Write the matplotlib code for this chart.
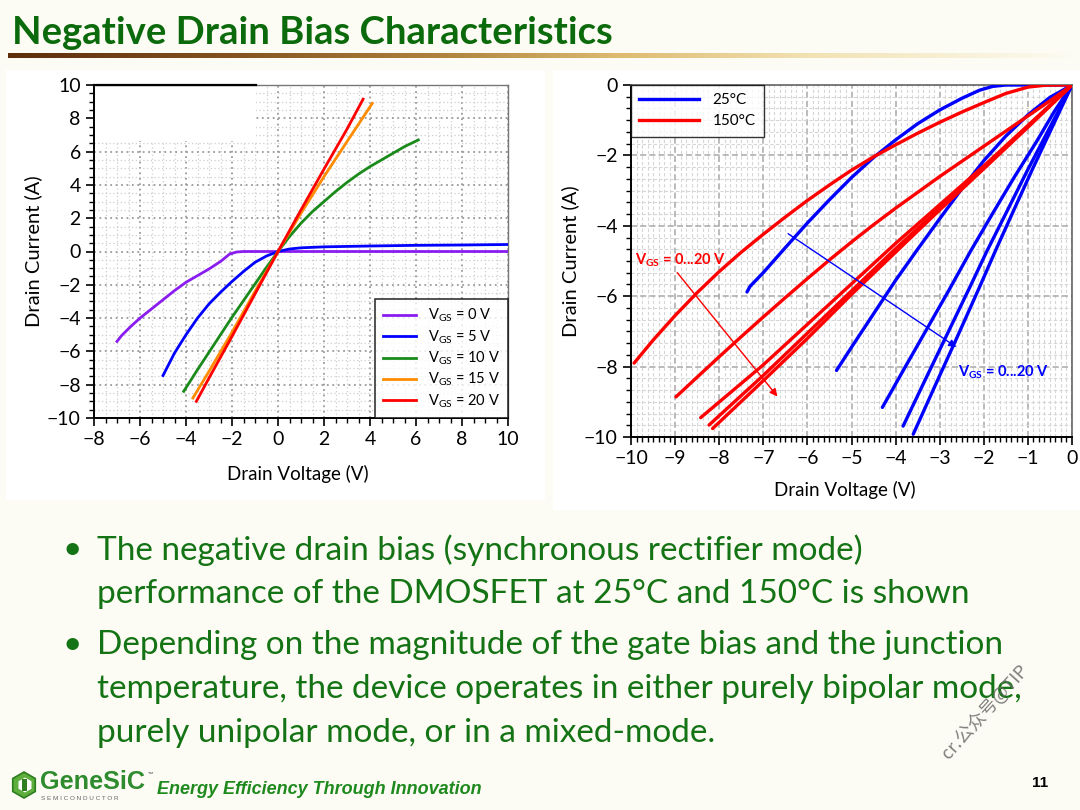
import numpy as np
import matplotlib
matplotlib.use('Agg')
import matplotlib.pyplot as plt
from matplotlib.ticker import MultipleLocator
from matplotlib.patches import Rectangle, Polygon
from matplotlib import font_manager
import matplotlib.colors as mcolors

plt.rcParams['font.family'] = ['Lato', 'DejaVu Sans']
plt.rcParams['mathtext.fontset'] = 'custom'
plt.rcParams['mathtext.rm'] = 'Lato'
plt.rcParams['mathtext.it'] = 'Lato:italic'
plt.rcParams['mathtext.bf'] = 'Lato:bold'

# ---------------- data: left chart (I-V, 25 C) ----------------
vgs_labels = ['0', '5', '10', '15', '20']
v0_x = [-7.0, -6.8, -6.4, -6.0, -5.5, -5.0, -4.5, -4.0, -3.5, -3.0, -2.5, -2.1, -1.8, -1.5, 0.0, 10.0]
v0_y = [-5.4, -5.05, -4.5, -4.0, -3.45, -2.9, -2.35, -1.85, -1.45, -1.05, -0.6, -0.15, -0.03, 0.0, 0.0, 0.0]
v5_x = [-5.0, -4.5, -4.0, -3.5, -3.0, -2.5, -2.0, -1.5, -1.0, -0.5, 0.0, 0.5, 1.0, 2.0, 4.0, 6.0, 8.0, 10.0]
v5_y = [-7.45, -6.1, -5.0, -4.0, -3.15, -2.45, -1.8, -1.2, -0.65, -0.27, 0.0, 0.15, 0.22, 0.28, 0.33, 0.37, 0.39, 0.42]
v10_x = [-4.1, -3.5, -3.0, -2.5, -2.0, -1.5, -1.0, -0.5, 0.0, 0.5, 1.0, 1.5, 2.0, 2.5, 3.0, 3.5, 4.0, 4.5, 5.0, 5.5, 6.1]
v10_y = [-8.4, -7.1, -6.05, -5.0, -3.95, -2.95, -1.95, -0.95, 0.0, 0.9, 1.7, 2.4, 3.0, 3.6, 4.15, 4.65, 5.1, 5.5, 5.9, 6.3, 6.7]
v15_x = [-3.7, -3.0, -2.0, -1.0, 0.0, 1.0, 2.0, 3.0, 4.1]
v15_y = [-8.8, -7.2, -4.85, -2.4, 0.0, 2.3, 4.5, 6.6, 8.9]
v20_x = [-3.55, -3.0, -2.0, -1.0, 0.0, 1.0, 2.0, 3.0, 3.7]
v20_y = [-9.0, -7.6, -5.1, -2.55, 0.0, 2.5, 4.95, 7.35, 9.15]

# ---------------- data: right chart (3rd quadrant, 25 C / 150 C) ----------------
b0_x = [-7.37, -7.3, -7.0, -6.5, -6.0, -5.5, -5.0, -4.5, -4.0, -3.5, -3.0, -2.5, -2.1, -1.8, -1.5, -1.0, 0.0]
b0_y = [-5.88, -5.72, -5.33, -4.62, -3.92, -3.26, -2.63, -2.06, -1.56, -1.1, -0.71, -0.38, -0.15, -0.04, 0.0, 0.0, 0.0]
b5_x = [-5.34, -5.0, -4.5, -4.0, -3.52, -3.0, -2.5, -2.0, -1.5, -1.0, -0.5, 0.0]
b5_y = [-8.11, -7.45, -6.5, -5.55, -4.7, -3.8, -2.95, -2.15, -1.45, -0.85, -0.35, 0.0]
b10_x = [-4.3, -3.8, -3.3, -2.8, -2.3, -1.8, -1.3, -0.8, -0.4, 0.0]
b10_y = [-9.16, -8.05, -6.95, -5.85, -4.72, -3.65, -2.6, -1.6, -0.75, 0.0]
b15_x = [-3.83, -3.3, -2.8, -2.3, -1.93, -1.5, -1.0, -0.5, 0.0]
b15_y = [-9.69, -8.3, -7.0, -5.7, -4.72, -3.65, -2.4, -1.2, 0.0]
b20_x = [-3.6, -3.1, -2.6, -2.1, -1.74, -1.3, -0.9, -0.45, 0.0]
b20_y = [-9.92, -8.53, -7.15, -5.75, -4.72, -3.5, -2.4, -1.2, 0.0]

r0_x = [-9.93, -9.5, -9.0, -8.5, -8.0, -7.5, -7.0, -6.5, -6.0, -5.5, -5.0, -4.5, -4.0, -3.5, -3.0, -2.5, -2.0, -1.5, -1.0, -0.6, 0.0]
r0_y = [-7.9, -7.25, -6.55, -5.9, -5.3, -4.75, -4.24, -3.75, -3.28, -2.84, -2.42, -2.04, -1.7, -1.37, -1.06, -0.77, -0.5, -0.24, -0.06, -0.005, 0.0]
r5_x = [-8.98, -8.5, -8.0, -7.5, -7.0, -6.5, -6.0, -5.5, -5.0, -4.5, -4.0, -3.0, -2.0, -1.0, -0.5, 0.0]
r5_y = [-8.86, -8.3, -7.72, -7.15, -6.59, -6.04, -5.5, -4.97, -4.46, -3.97, -3.5, -2.6, -1.74, -0.88, -0.45, 0.0]
r10_x = [-8.42, -7.0, -6.0, -5.0, -4.0, -3.0, -2.0, -1.0, 0.0]
r10_y = [-9.45, -7.95, -6.8, -5.65, -4.5, -3.4, -2.3, -1.15, 0.0]
r15_x = [-8.23, -7.0, -6.0, -5.0, -4.0, -3.0, -2.0, -1.0, 0.0]
r15_y = [-9.66, -8.25, -7.05, -5.85, -4.65, -3.5, -2.35, -1.18, 0.0]
r20_x = [-8.15, -7.0, -6.0, -5.0, -4.0, -3.0, -2.0, -1.0, 0.0]
r20_y = [-9.76, -8.4, -7.2, -5.95, -4.75, -3.55, -2.38, -1.2, 0.0]

temp_labels = ['25°C', '150°C']

title = 'Negative Drain Bias Characteristics'
bullets = [
    ['The negative drain bias (synchronous rectifier mode)',
     'performance of the DMOSFET at 25°C and 150°C is shown'],
    ['Depending on the magnitude of the gate bias and the junction',
     'temperature, the device operates in either purely bipolar mode,',
     'purely unipolar mode, or in a mixed-mode.'],
]
footer = 'Energy Efficiency Through Innovation'
page = '11'

# ---------------- figure ----------------
W, H = 1080, 810
fig = plt.figure(figsize=(10.8, 8.1), dpi=100)
bg = '#FDFCF4'
fig.patch.set_facecolor(bg)
renderer = fig.canvas.get_renderer()

def fx(px):
    return px / W

def fy(py):
    return 1 - py / H

def fit(t, target):
    w = t.get_window_extent(renderer).width
    t.set_fontsize(t.get_fontsize() * target / w)

# title
tt = fig.text(fx(12), fy(33), title, fontsize=24, fontweight='bold', color='#0B6A0B', va='center', ha='left')
fit(tt, 602)

# gradient bar under title
bar_ax = fig.add_axes([fx(8), fy(58), fx(1072), 5 / H])
stops = [(0.0, '#5E2E0C'), (0.2, '#83501E'), (0.42, '#B38840'), (0.57, '#DDBB70'), (0.75, '#F2E2B4'), (1.0, bg)]
cmap = mcolors.LinearSegmentedColormap.from_list('bar', stops)
grad = np.linspace(0, 1, 512)[None, :]
bar_ax.imshow(grad, aspect='auto', cmap=cmap, extent=[0, 1, 0, 1])
bar_ax.axis('off')

# white panels behind the charts
fig.patches.append(Rectangle((fx(6), fy(500)), fx(539), 430 / H, transform=fig.transFigure, facecolor='white', edgecolor='none', zorder=-5))
fig.patches.append(Rectangle((fx(553), fy(510)), fx(527), 440 / H, transform=fig.transFigure, facecolor='white', edgecolor='none', zorder=-5))

# ---------------- left chart ----------------
ax1 = fig.add_axes([fx(94), fy(418), fx(414), 333 / H])
ax1.set_facecolor('white')
ax1.set_axisbelow(True)
lcolors = ['#8A1CF0', '#0000FF', '#1A8A1A', '#FF8C00', '#FF0000']
lx = [v0_x, v5_x, v10_x, v15_x, v20_x]
ly = [v0_y, v5_y, v10_y, v15_y, v20_y]
for xs, ys, c, lab in zip(lx, ly, lcolors, vgs_labels):
    ax1.plot(xs, ys, color=c, lw=2.0, label=r'V$_{\mathrm{GS}}$ = ' + lab + ' V', zorder=3)
ax1.set_xlim(-8, 10)
ax1.set_ylim(-10, 10)
ax1.xaxis.set_major_locator(MultipleLocator(2))
ax1.yaxis.set_major_locator(MultipleLocator(2))
ax1.xaxis.set_minor_locator(MultipleLocator(0.5))
ax1.yaxis.set_minor_locator(MultipleLocator(0.5))
ax1.grid(which='major', color='#9A9A9A', linestyle=(0, (1, 2)), lw=1.3)
ax1.grid(which='minor', color='#CFCFCF', linestyle=(0, (1, 2)), lw=0.9)
ax1.tick_params(which='major', direction='out', length=6, width=1.2, labelsize=14, colors='black')
ax1.tick_params(which='minor', direction='out', length=3.5, width=1.0)
for s in ['left', 'bottom']:
    ax1.spines[s].set_linewidth(1.4)
    ax1.spines[s].set_color('black')
for s in ['top', 'right']:
    ax1.spines[s].set_linewidth(1.0)
    ax1.spines[s].set_color('#777777')
ax1.add_patch(Rectangle((-8, 6.62), 7.05, 3.38, facecolor='white', edgecolor='none', zorder=1))
ax1.plot([-8, -0.95], [10, 10], color='black', lw=1.6, clip_on=False, zorder=4)
leg1 = ax1.legend(loc='lower right', fontsize=10.5, frameon=True, fancybox=False, borderaxespad=0.0,
                  handlelength=2.3, handletextpad=0.8, labelspacing=0.28, borderpad=0.55)
leg1.get_frame().set_edgecolor('black')
leg1.get_frame().set_linewidth(1.2)
fig.text(fx(33), fy(251), 'Drain Current (A)', rotation=90, fontsize=14.5, va='center', ha='center')
fig.text(fx(298), fy(474), 'Drain Voltage (V)', fontsize=13.5, va='center', ha='center')

# ---------------- right chart ----------------
ax2 = fig.add_axes([fx(631), fy(437), fx(441), 352 / H])
ax2.set_facecolor('white')
ax2.set_axisbelow(True)
for xs, ys in zip([b0_x, b5_x, b10_x, b15_x, b20_x], [b0_y, b5_y, b10_y, b15_y, b20_y]):
    ax2.plot(xs, ys, color='#0000FF', lw=2.4, zorder=3, solid_capstyle='round', solid_joinstyle='round')
for xs, ys in zip([r0_x, r5_x, r10_x, r15_x, r20_x], [r0_y, r5_y, r10_y, r15_y, r20_y]):
    ax2.plot(xs, ys, color='#FF0000', lw=2.4, zorder=3, solid_capstyle='round', solid_joinstyle='round')
ax2.set_xlim(-10, 0)
ax2.set_ylim(-10, 0)
ax2.xaxis.set_major_locator(MultipleLocator(1))
ax2.yaxis.set_major_locator(MultipleLocator(2))
ax2.xaxis.set_minor_locator(MultipleLocator(0.125))
ax2.yaxis.set_minor_locator(MultipleLocator(1 / 3))
ax2.grid(which='major', color='#A8A8A8', linestyle=(0, (4, 2)), lw=1.1)
ax2.grid(which='minor', color='#D6D6D6', linestyle=(0, (3, 2)), lw=0.8)
ax2.tick_params(which='major', direction='out', length=6, width=1.2, labelsize=14)
ax2.tick_params(which='minor', direction='out', length=3.5, width=1.0)
for s in ['left', 'bottom']:
    ax2.spines[s].set_linewidth(1.4)
    ax2.spines[s].set_color('black')
for s in ['top', 'right']:
    ax2.spines[s].set_linewidth(1.2)
    ax2.spines[s].set_color('#666666')
h1, = ax2.plot([], [], color='#0000FF', lw=2.4)
h2, = ax2.plot([], [], color='#FF0000', lw=2.4)
leg2 = ax2.legend([h1, h2], temp_labels, loc='upper left', fontsize=11, frameon=True, fancybox=False,
                  borderaxespad=0.0, handlelength=3.9, handletextpad=0.9, labelspacing=0.45, borderpad=0.55)
leg2.get_frame().set_edgecolor('black')
leg2.get_frame().set_linewidth(1.0)
ax2.annotate('', xy=(-6.64, -8.91), xytext=(-8.99, -5.27),
             arrowprops=dict(arrowstyle='-|>', color='#FF0000', lw=1.0, mutation_scale=11), zorder=4)
ax2.annotate('', xy=(-2.57, -7.49), xytext=(-6.49, -4.18),
             arrowprops=dict(arrowstyle='-|>', color='#0000FF', lw=1.0, mutation_scale=11), zorder=4)
ax2.text(-9.9, -4.98, r'$\mathbf{V_{GS}}$ = 0...20 V', color='#FF0000', fontsize=10.5, fontweight='bold',
         ha='left', va='center', zorder=5)
ax2.text(-2.58, -8.15, r'$\mathbf{V_{GS}}$ = 0...20 V', color='#0000FF', fontsize=10.5, fontweight='bold',
         ha='left', va='center', zorder=5)
fig.text(fx(570), fy(261), 'Drain Current (A)', rotation=90, fontsize=14.5, va='center', ha='center')
fig.text(fx(845), fy(490), 'Drain Voltage (V)', fontsize=13.5, va='center', ha='center')

# ---------------- bullets ----------------
green_txt = '#147314'
ys_lines = [[550, 594], [645, 689, 733]]
ref = fig.text(fx(97), fy(645), bullets[1][0], fontsize=21, color=green_txt, va='center', ha='left')
fit(ref, 908)
fs_ref = ref.get_fontsize()
ref.remove()
for blines, ys in zip(bullets, ys_lines):
    fig.text(fx(62), fy(ys[0]), '•', fontsize=fs_ref, color=green_txt, va='center', ha='left')
    for line, yy in zip(blines, ys):
        fig.text(fx(97), fy(yy), line, fontsize=fs_ref, color=green_txt, va='center', ha='left')

# ---------------- footer ----------------
names = {f.name for f in font_manager.fontManager.ttflist}
narrow = 'Liberation Sans Narrow' if 'Liberation Sans Narrow' in names else 'Liberation Sans'
ft = fig.text(fx(157), fy(789), footer, fontsize=12, fontweight='bold', fontstyle='italic',
              color='#1E8A1E', va='center', ha='left', family=[narrow, 'DejaVu Sans'])
fit(ft, 323)
# logo icon
cx, cy, r = 24, 785, 13
hexpts = [(fx(cx + r * np.cos(a)), fy(cy + r * np.sin(a))) for a in np.deg2rad(np.arange(30, 390, 60))]
fig.patches.append(Polygon(hexpts, closed=True, transform=fig.transFigure, facecolor='#5DAE3C', edgecolor='#2E7D1E', lw=1.2))
r2 = 7.5
hexin = [(fx(cx + 1 + r2 * np.cos(a)), fy(cy + r2 * np.sin(a))) for a in np.deg2rad(np.arange(30, 390, 60))]
fig.patches.append(Polygon(hexin, closed=True, transform=fig.transFigure, facecolor='white', edgecolor='none'))
fig.patches.append(Rectangle((fx(cx - 2), fy(cy + 6)), fx(5), 12 / H, transform=fig.transFigure, facecolor='#2E7D1E', edgecolor='none'))
gt = fig.text(fx(40), fy(782), 'GeneSiC', fontsize=15, fontweight='bold', color='#2E8B2E', va='center', ha='left',
              family=['Liberation Sans', 'DejaVu Sans'])
fit(gt, 106)
fig.text(fx(148), fy(774), '™', fontsize=5, color='#555555', va='center', ha='left')
fig.text(fx(41), fy(799), 'S E M I C O N D U C T O R', fontsize=4.6, color='#666666', va='center', ha='left',
         family=['Liberation Sans', 'DejaVu Sans'])
fig.text(fx(1040), fy(783), page, fontsize=11, fontweight='bold', color='black', va='center', ha='center',
         family=[narrow, 'DejaVu Sans'])

# watermark
fig.text(fx(985), fy(712), 'cr.公众号@TIP', rotation=48, fontsize=13, color='#6A6A6A', va='center', ha='center',
         family=['Noto Sans CJK SC', 'DejaVu Sans'], alpha=0.85)

fig.savefig('out.png', dpi=100, facecolor=fig.get_facecolor())
